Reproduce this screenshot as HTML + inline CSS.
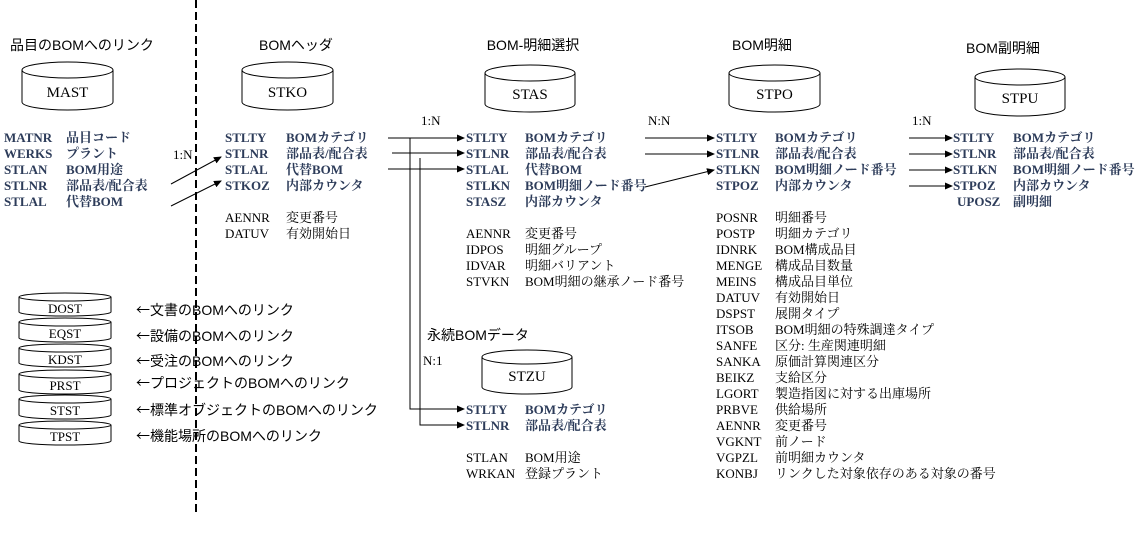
<!DOCTYPE html>
<html><head><meta charset="utf-8"><style>
html,body{margin:0;padding:0;background:#fff;}
svg{display:block;}
text{font-family:"Liberation Serif","Noto Serif CJK SC","Noto Sans CJK JP",serif;font-size:13px;fill:#000;}
.k{font-weight:bold;fill:#2d3c5a;}
.t{font-family:"Liberation Sans","Noto Sans CJK JP",sans-serif;font-size:14px;}
.s{font-family:"Liberation Sans","Noto Sans CJK JP",sans-serif;font-size:14px;}
.ar{font-family:"Noto Sans CJK JP",sans-serif;}
.c{font-size:15px;}
</style></head><body>
<svg width="1145" height="545" viewBox="0 0 1145 545" xmlns="http://www.w3.org/2000/svg">
<defs><marker id="a" markerWidth="8" markerHeight="8" refX="7" refY="4" orient="auto" markerUnits="userSpaceOnUse"><path d="M0,0.5 L8,4 L0,7.5z" fill="#000"/></marker></defs>
<g fill="#fff" stroke="#000" stroke-width="1">
<line x1="196" y1="0" x2="196" y2="514" stroke-dasharray="8,4" stroke-width="2"/>
</g>
<text class="t" x="10" y="50">品目のBOMへのリンク</text>
<text class="t" x="296" y="50" text-anchor="middle">BOMヘッダ</text>
<text class="t" x="533" y="50" text-anchor="middle">BOM-明細選択</text>
<text class="t" x="762" y="50" text-anchor="middle">BOM明細</text>
<text class="t" x="1003" y="53" text-anchor="middle">BOM副明細</text>
<text class="t" x="427" y="340">永続BOMデータ</text>
<g fill="#fff" stroke="#000">
<path d="M22,70 V102 A45.5,8 0 0 0 113,102 V70"/><ellipse cx="67.5" cy="70" rx="45.5" ry="8"/>
<path d="M242,70 V102 A45.5,8 0 0 0 333,102 V70"/><ellipse cx="287.5" cy="70" rx="45.5" ry="8"/>
<path d="M485,73 V104 A45,8 0 0 0 575,104 V73"/><ellipse cx="530" cy="73" rx="45" ry="8"/>
<path d="M729,73 V104 A45.5,8 0 0 0 820,104 V73"/><ellipse cx="774.5" cy="73" rx="45.5" ry="8"/>
<path d="M975,77 V108 A45,8 0 0 0 1065,108 V77"/><ellipse cx="1020" cy="77" rx="45" ry="8"/>
<path d="M482,357 V387 A45,7 0 0 0 572,387 V357"/><ellipse cx="527" cy="357" rx="45" ry="7"/>
<path d="M19,297 V312 A46,4 0 0 0 111,312 V297"/><ellipse cx="65" cy="297" rx="46" ry="4"/>
<path d="M19,322 V338 A46,4 0 0 0 111,338 V322"/><ellipse cx="65" cy="322" rx="46" ry="4"/>
<path d="M19,348 V363 A46,4 0 0 0 111,363 V348"/><ellipse cx="65" cy="348" rx="46" ry="4"/>
<path d="M19,374 V390 A46,4 0 0 0 111,390 V374"/><ellipse cx="65" cy="374" rx="46" ry="4"/>
<path d="M19,399 V415 A46,4 0 0 0 111,415 V399"/><ellipse cx="65" cy="399" rx="46" ry="4"/>
<path d="M19,425 V441 A46,4 0 0 0 111,441 V425"/><ellipse cx="65" cy="425" rx="46" ry="4"/>
</g>
<text class="c" x="67.5" y="97" text-anchor="middle">MAST</text>
<text class="c" x="287.5" y="97" text-anchor="middle">STKO</text>
<text class="c" x="530" y="99" text-anchor="middle">STAS</text>
<text class="c" x="774.5" y="99" text-anchor="middle">STPO</text>
<text class="c" x="1020" y="103" text-anchor="middle">STPU</text>
<text class="c" x="527" y="381" text-anchor="middle">STZU</text>
<g text-anchor="middle">
<text x="65" y="313">DOST</text><text x="65" y="338">EQST</text><text x="65" y="364">KDST</text>
<text x="65" y="390">PRST</text><text x="65" y="415">STST</text><text x="65" y="441">TPST</text>
</g>
<text class="s" x="136" y="315"><tspan class="ar">←</tspan>文書のBOMへのリンク</text>
<text class="s" x="136" y="341"><tspan class="ar">←</tspan>設備のBOMへのリンク</text>
<text class="s" x="136" y="366"><tspan class="ar">←</tspan>受注のBOMへのリンク</text>
<text class="s" x="136" y="388"><tspan class="ar">←</tspan>プロジェクトのBOMへのリンク</text>
<text class="s" x="136" y="415"><tspan class="ar">←</tspan>標準オブジェクトのBOMへのリンク</text>
<text class="s" x="136" y="441"><tspan class="ar">←</tspan>機能場所のBOMへのリンク</text>
<g>
<text class="k" x="4" y="142">MATNR</text><text class="k" x="66" y="142">品目コード</text>
<text class="k" x="4" y="158">WERKS</text><text class="k" x="66" y="158">プラント</text>
<text class="k" x="4" y="174">STLAN</text><text class="k" x="66" y="174">BOM用途</text>
<text class="k" x="4" y="190">STLNR</text><text class="k" x="66" y="190">部品表/配合表</text>
<text class="k" x="4" y="206">STLAL</text><text class="k" x="66" y="206">代替BOM</text>
<text class="k" x="225" y="142">STLTY</text><text class="k" x="286" y="142">BOMカテゴリ</text>
<text class="k" x="225" y="158">STLNR</text><text class="k" x="286" y="158">部品表/配合表</text>
<text class="k" x="225" y="174">STLAL</text><text class="k" x="286" y="174">代替BOM</text>
<text class="k" x="225" y="190">STKOZ</text><text class="k" x="286" y="190">内部カウンタ</text>
<text class="k" x="466" y="142">STLTY</text><text class="k" x="525" y="142">BOMカテゴリ</text>
<text class="k" x="466" y="158">STLNR</text><text class="k" x="525" y="158">部品表/配合表</text>
<text class="k" x="466" y="174">STLAL</text><text class="k" x="525" y="174">代替BOM</text>
<text class="k" x="466" y="190">STLKN</text><text class="k" x="525" y="190">BOM明細ノード番号</text>
<text class="k" x="466" y="206">STASZ</text><text class="k" x="525" y="206">内部カウンタ</text>
<text class="k" x="716" y="142">STLTY</text><text class="k" x="775" y="142">BOMカテゴリ</text>
<text class="k" x="716" y="158">STLNR</text><text class="k" x="775" y="158">部品表/配合表</text>
<text class="k" x="716" y="174">STLKN</text><text class="k" x="775" y="174">BOM明細ノード番号</text>
<text class="k" x="716" y="190">STPOZ</text><text class="k" x="775" y="190">内部カウンタ</text>
<text class="k" x="953" y="142">STLTY</text><text class="k" x="1013" y="142">BOMカテゴリ</text>
<text class="k" x="953" y="158">STLNR</text><text class="k" x="1013" y="158">部品表/配合表</text>
<text class="k" x="953" y="174">STLKN</text><text class="k" x="1013" y="174">BOM明細ノード番号</text>
<text class="k" x="953" y="190">STPOZ</text><text class="k" x="1013" y="190">内部カウンタ</text>
<text class="k" x="957" y="206">UPOSZ</text><text class="k" x="1013" y="206">副明細</text>
<text class="k" x="466" y="414">STLTY</text><text class="k" x="525" y="414">BOMカテゴリ</text>
<text class="k" x="466" y="430">STLNR</text><text class="k" x="525" y="430">部品表/配合表</text>
</g>
<text x="225" y="222">AENNR</text><text x="286" y="222">変更番号</text>
<text x="225" y="238">DATUV</text><text x="286" y="238">有効開始日</text>
<text x="466" y="238">AENNR</text><text x="525" y="238">変更番号</text>
<text x="466" y="254">IDPOS</text><text x="525" y="254">明細グループ</text>
<text x="466" y="270">IDVAR</text><text x="525" y="270">明細バリアント</text>
<text x="466" y="286">STVKN</text><text x="525" y="286">BOM明細の継承ノード番号</text>
<text x="466" y="462">STLAN</text><text x="525" y="462">BOM用途</text>
<text x="466" y="478">WRKAN</text><text x="525" y="478">登録プラント</text>
<g>
<text x="716" y="222">POSNR</text><text x="775" y="222">明細番号</text>
<text x="716" y="238">POSTP</text><text x="775" y="238">明細カテゴリ</text>
<text x="716" y="254">IDNRK</text><text x="775" y="254">BOM構成品目</text>
<text x="716" y="270">MENGE</text><text x="775" y="270">構成品目数量</text>
<text x="716" y="286">MEINS</text><text x="775" y="286">構成品目単位</text>
<text x="716" y="302">DATUV</text><text x="775" y="302">有効開始日</text>
<text x="716" y="318">DSPST</text><text x="775" y="318">展開タイプ</text>
<text x="716" y="334">ITSOB</text><text x="775" y="334">BOM明細の特殊調達タイプ</text>
<text x="716" y="350">SANFE</text><text x="775" y="350">区分: 生産関連明細</text>
<text x="716" y="366">SANKA</text><text x="775" y="366">原価計算関連区分</text>
<text x="716" y="382">BEIKZ</text><text x="775" y="382">支給区分</text>
<text x="716" y="398">LGORT</text><text x="775" y="398">製造指図に対する出庫場所</text>
<text x="716" y="414">PRBVE</text><text x="775" y="414">供給場所</text>
<text x="716" y="430">AENNR</text><text x="775" y="430">変更番号</text>
<text x="716" y="446">VGKNT</text><text x="775" y="446">前ノード</text>
<text x="716" y="462">VGPZL</text><text x="775" y="462">前明細カウンタ</text>
<text x="716" y="478">KONBJ</text><text x="775" y="478">リンクした対象依存のある対象の番号</text>
</g>
<text x="173" y="159">1:N</text>
<text x="421" y="125">1:N</text>
<text x="648" y="125">N:N</text>
<text x="912" y="125">1:N</text>
<text x="423" y="365">N:1</text>
<g stroke="#000" stroke-width="1" fill="none">
<line x1="171" y1="184" x2="221" y2="157" marker-end="url(#a)"/>
<line x1="171" y1="206" x2="221" y2="181" marker-end="url(#a)"/>
<line x1="388" y1="138" x2="464" y2="138" marker-end="url(#a)"/>
<line x1="392" y1="153" x2="464" y2="153" marker-end="url(#a)"/>
<line x1="388" y1="169" x2="464" y2="169" marker-end="url(#a)"/>
<polyline points="410,138 410,409 464,409" marker-end="url(#a)"/>
<polyline points="420,158 420,425 464,425" marker-end="url(#a)"/>
<line x1="645" y1="138" x2="714" y2="138" marker-end="url(#a)"/>
<line x1="645" y1="154" x2="714" y2="154" marker-end="url(#a)"/>
<line x1="645" y1="187" x2="714" y2="170" marker-end="url(#a)"/>
<line x1="909" y1="138" x2="952" y2="138" marker-end="url(#a)"/>
<line x1="909" y1="154" x2="952" y2="154" marker-end="url(#a)"/>
<line x1="909" y1="170" x2="952" y2="170" marker-end="url(#a)"/>
<line x1="909" y1="186" x2="952" y2="186" marker-end="url(#a)"/>
</g>
</svg>
</body></html>
